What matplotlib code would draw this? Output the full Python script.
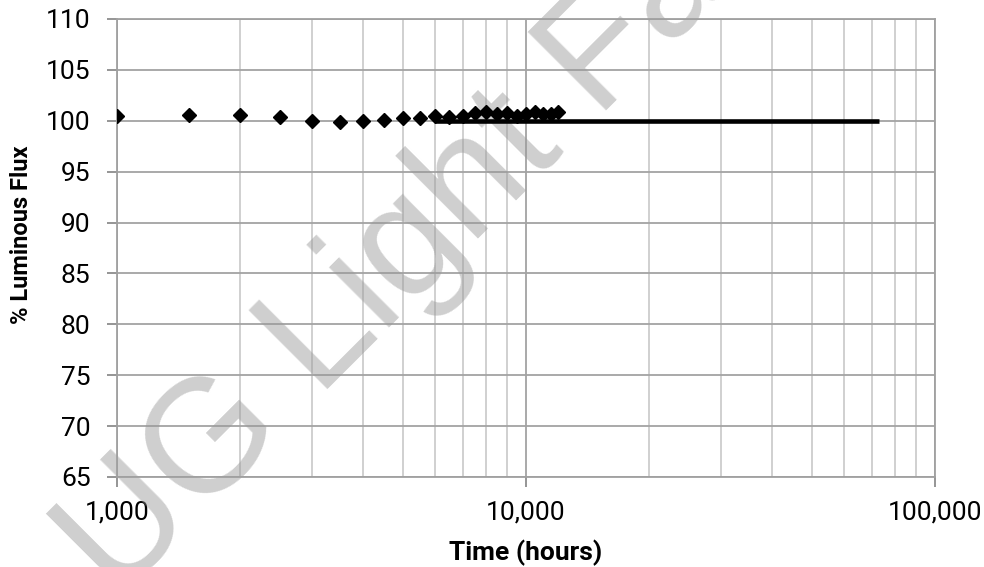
import matplotlib
matplotlib.use("Agg")
import matplotlib.pyplot as plt
from matplotlib.ticker import FuncFormatter, LogLocator, NullFormatter

plt.rcParams['font.family'] = ['Roboto', 'DejaVu Sans']

# measured points
hours = [1000, 1500, 2000, 2500, 3000, 3500, 4000, 4500, 5000, 5500,
         6000, 6500, 7000, 7500, 8000, 8500, 9000, 9500, 10000, 10500,
         11000, 11500, 12000]
flux = [100.5, 100.55, 100.55, 100.4, 100.0, 99.9, 99.95, 100.1, 100.3, 100.25,
        100.5, 100.4, 100.5, 100.8, 100.9, 100.7, 100.8, 100.5, 100.7, 100.9,
        100.7, 100.7, 100.9]

# projection line
proj_hours = [6000, 73000]
proj_flux = [100, 100]

y_ticks = list(range(65, 111, 5))

W, H = 984, 567
fig = plt.figure(figsize=(W / 100, H / 100), dpi=100)
ax = fig.add_axes([117 / W, 1 - 477 / H, (935 - 117) / W, (477 - 19) / H])

ax.set_xscale('log')
ax.set_xlim(1000, 100000)
ax.set_ylim(65, 110)
ax.set_yticks(y_ticks)

ax.xaxis.set_major_locator(LogLocator(base=10))
ax.xaxis.set_minor_locator(LogLocator(base=10, subs=range(2, 10)))
ax.xaxis.set_major_formatter(FuncFormatter(lambda v, p: f"{v:,.0f}"))
ax.xaxis.set_minor_formatter(NullFormatter())

ax.grid(which='major', color='#a3a3a3', lw=1.3)
ax.grid(which='minor', axis='x', color='#c4c4c4', lw=1.1)
ax.set_axisbelow(True)

for s in ax.spines.values():
    s.set_color('#a0a0a0')
    s.set_linewidth(1.3)

ax.tick_params(which='major', length=7, width=1.3, color='#8c8c8c', labelsize=19)
ax.tick_params(which='minor', length=0)
ax.tick_params(axis='x', pad=10)
ax.tick_params(axis='y', pad=12)

ax.plot(proj_hours, proj_flux, color='black', lw=3.3, solid_capstyle='butt', zorder=3)
ax.plot(hours, flux, ls='none', marker='D', ms=7, color='black', zorder=4)

ax.set_xlabel('Time (hours)', fontsize=19, fontweight='bold', va='center')
ax.xaxis.set_label_coords(0.5, -0.166)
ax.set_ylabel('% Luminous Flux', fontsize=17, fontweight='bold', va='center')
ax.yaxis.set_label_coords(-0.117, 0.53)

# watermark, over the grid but under the data
ax.text(53 / W, 1 - 664 / H, 'LUG Light Factory', fontsize=116, color='#9a9a9a',
        alpha=0.48, rotation=45, rotation_mode='anchor', ha='left', va='baseline',
        family=['Liberation Sans', 'DejaVu Sans'], transform=fig.transFigure,
        clip_on=False, zorder=2)

fig.savefig('out.png', dpi=100)
